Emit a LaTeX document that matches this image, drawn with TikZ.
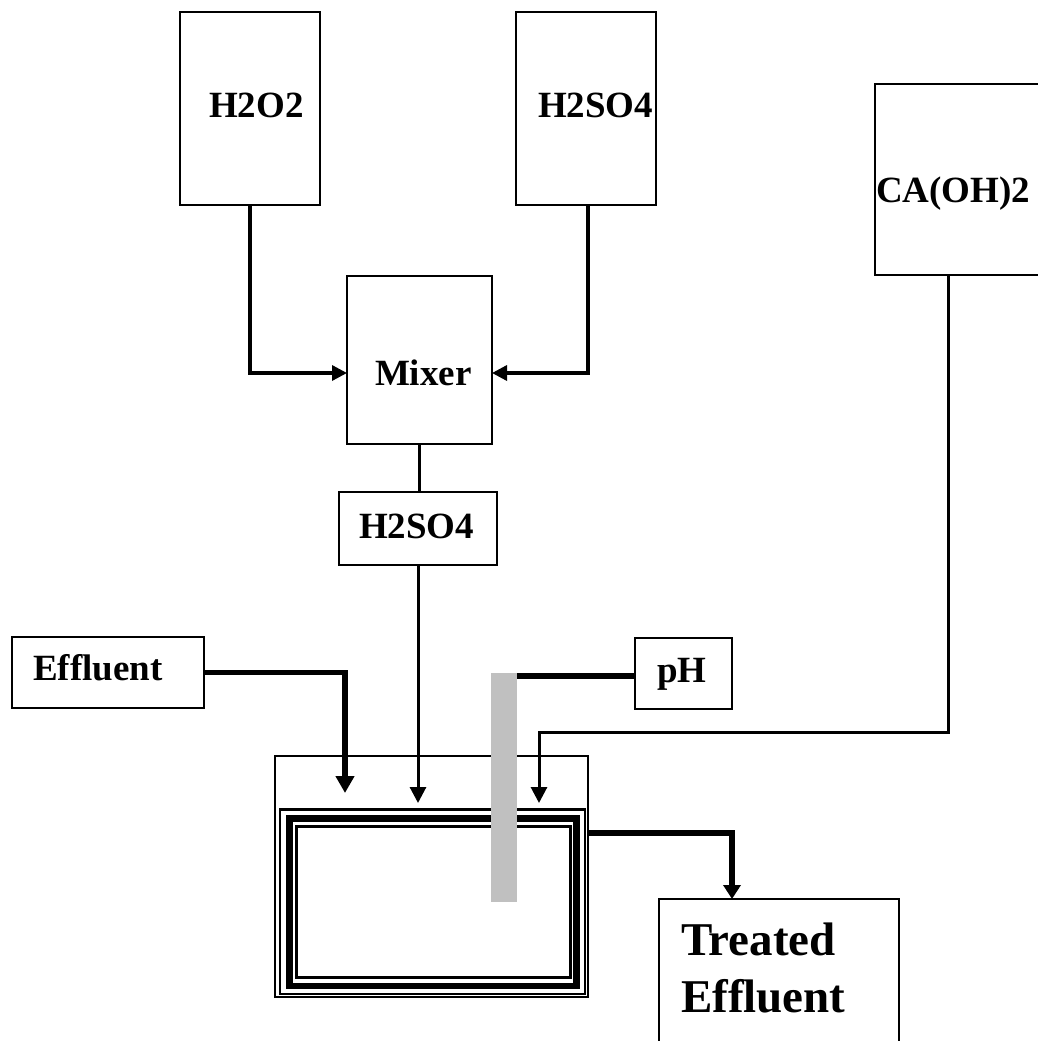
\documentclass[tikz,border=0pt]{standalone}
\usepackage{fontspec}
\setmainfont{Liberation Serif}
\usetikzlibrary{arrows.meta}

\definecolor{probegray}{RGB}{192,192,192}

\begin{document}
\begin{tikzpicture}[x=1pt, y=-1pt,
    unit/.style={draw, line width=1.6pt, inner ysep=0pt, outer sep=0pt, align=left, anchor=base west,
      font=\bfseries\fontsize{37}{44}\selectfont},
    pipe/.style={line width=3.3pt, -{Triangle[length=15pt,width=15pt]}},
    feed/.style={line width=3pt, -{Triangle[length=16pt,width=16pt]}},
    heavy/.style={line width=5.5pt}]
    \path[use as bounding box, fill=white] (0,0) rectangle (1038,1041);

    \node[unit, inner xsep=29pt, text width=82pt, text height=105pt, text depth=88pt] (h2o2) at (180,117) {H2O2};
    \node[unit, inner xsep=22pt, text width=96pt, text height=105pt, text depth=88pt] (h2so4) at (516,117) {H2SO4};
    \node[unit, inner xsep=1pt, text width=168pt, text height=118pt, text depth=73pt] (caoh) at (875,202) {CA(OH)2};
    \node[unit, inner xsep=28pt, text width=89pt, text height=109pt, text depth=59pt] (mixer) at (347,385) {Mixer};
    \node[unit, inner xsep=20pt, text width=118pt, text height=46pt, text depth=27pt] (acid) at (339,538) {H2SO4};
    \node[unit, inner xsep=21pt, text width=150pt, text height=43pt, text depth=28pt] (effluent) at (12,680) {Effluent};
    \node[unit, inner xsep=22pt, text width=53pt, text height=44pt, text depth=27pt] (ph) at (635,682) {pH};
    \node[unit, anchor=north west, inner xsep=22pt, text width=196pt, text height=56pt, text depth=180pt,
      font=\bfseries\fontsize{47}{57}\selectfont] (treated) at (659,899) {Treated\\Effluent};

    \node[draw, line width=1.6pt, minimum width=313pt, minimum height=241pt, inner sep=0pt, outer sep=0pt] (tank) at (431.5,876.5) {};
    \draw[line width=2.3pt] (280.3,809.5) rectangle (584.7,994);
    \draw[line width=6.7pt] (289.3,818.3) rectangle (576.7,986);
    \draw[line width=3pt] (296.7,826.7) rectangle (570,977.5);

    \coordinate (dropE) at (345,793);
    \coordinate (dropA) at (418,803);
    \coordinate (dropC) at (539,803);
    \coordinate (cabend) at (539,732);
    \coordinate (tankout) at (588,833);

    \draw[pipe] (h2o2.south) |- ([yshift=-13pt]mixer.west);
    \draw[pipe] ([xshift=2pt]h2so4.south) |- ([yshift=-13pt]mixer.east);
    \draw[line width=3.3pt] (mixer.south) -- (mixer.south |- acid.north);
    \draw[feed] (acid.south) -- (dropA);
    \draw[heavy, -{Triangle[length=17pt,width=18pt]}] (effluent.east) -| (dropE);
    \draw[feed] ([xshift=-12pt]caoh.south) |- (cabend) -- (dropC);
    \draw[heavy, -{Triangle[length=14pt,width=17pt]}] (tankout) -| ([xshift=-47pt]treated.north);

    \node[fill=probegray, minimum width=26pt, minimum height=229pt, inner sep=0pt] (probe) at (503.7,787.5) {};
    \draw[heavy] ([yshift=-2.5pt]ph.west) -- ([yshift=-2.5pt]ph.west -| probe.east);
\end{tikzpicture}
\end{document}
